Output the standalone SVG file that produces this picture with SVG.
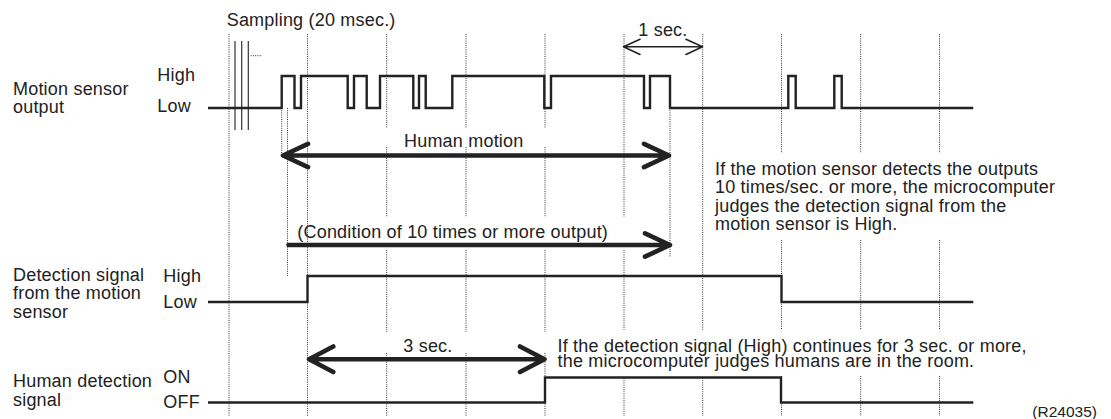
<svg xmlns="http://www.w3.org/2000/svg" width="1111" height="419" viewBox="0 0 1111 419">
<style>
text{font-family:"Liberation Sans",Arial,Helvetica,sans-serif;font-size:18px;letter-spacing:0.2px;fill:#222}
.small{font-size:15.5px;letter-spacing:0}
.grid{stroke:#333;stroke-width:1;stroke-dasharray:1 1.2;fill:none}
.samp{stroke:#333;stroke-width:1.2;fill:none}
.wave{stroke:#222;stroke-width:2.4;fill:none;stroke-linejoin:miter}
.thick{stroke:#222;stroke-width:4.6;fill:none;stroke-linecap:round;stroke-linejoin:round}
.thin{stroke:#222;stroke-width:1.6;fill:none;stroke-linecap:round;stroke-linejoin:round}
</style>
<rect width="1111" height="419" fill="#fff"/>
<g id="grid">
<path class="grid" d="M229,34V416 M307.5,34V416 M281.7,108V156 M287.5,108V276 M670,108V257
M386.7,34V128 M386.7,147V217 M386.7,250V332 M386.7,353V416
M466,34V128 M466,147V217 M466,250V332 M466,353V416
M545,34V128 M545,147V217 M545,250V332 M545,353V416
M624,34V217 M624,250V330 M624,378V416
M702.7,34V330 M702.7,378V416
M781.5,34V153 M781.5,240V330 M781.5,376V416
M860.7,34V153 M860.7,240V330 M860.7,376V416
M939.5,34V153 M939.5,240V330 M939.5,376V416"/>
</g>
<g id="sampling">
<path class="samp" d="M235,41V130 M241.7,41V130 M248.3,41V130"/>
<path class="grid" d="M250.7,55.7H262"/>
<text x="226.7" y="26">Sampling (20 msec.)</text>
</g>
<g id="motion-sensor">
<text x="13" y="94.5">Motion sensor</text>
<text x="13" y="112.5">output</text>
<text x="157.3" y="81">High</text>
<text x="157.3" y="112">Low</text>
<path class="wave" d="M208,108H281.7V76H294.5V108H301V76H347.7V108H354V76H366.7V108H380V76H413.3V108H419V76H425.7V108H452.3V76H544.3V108H551V76H644V108H650V76H670V108H788.3V76H795.7V108H834.3V76H841.7V108H973.3"/>
</g>
<g id="detection-signal">
<text x="13" y="281">Detection signal</text>
<text x="13" y="299.3">from the motion</text>
<text x="13" y="317.6">sensor</text>
<text x="163.3" y="281.5">High</text>
<text x="163.3" y="307.5">Low</text>
<path class="wave" d="M208,302H307.5V276H781.5V302H973.3"/>
</g>
<g id="human-detection">
<text x="13" y="387.3">Human detection</text>
<text x="13" y="405.6">signal</text>
<text x="163.3" y="382.7">ON</text>
<text x="163.3" y="408.3">OFF</text>
<path class="wave" d="M208,402.5H545V377.5H781V402.5H973.3"/>
</g>
<g id="connectors">
<path class="thin" d="M623.5,46.7H702.5 M640,39.3L623.5,46.7L640,54.5 M686,39.3L702.5,46.7L686,54.5"/>
<path class="thick" d="M283,155.5H669 M308,143.8L283,155.5L308,167.2 M644,143.8L669,155.5L644,167.2"/>
<path class="thick" d="M288.5,245H669.5 M645,233.3L670,245L645,256.7"/>
<path class="thick" d="M309.5,359.3H544 M333.3,346.5L309,359.3L333.3,372 M520,346.5L544.5,359.3L520,372"/>
</g>
<g id="labels">
<text x="638.3" y="35.7">1 sec.</text>
<text x="404" y="147">Human motion</text>
<text x="297.3" y="238.3">(Condition of 10 times or more output)</text>
<text x="403.3" y="351.7">3 sec.</text>
<text x="715" y="175">If the motion sensor detects the outputs</text>
<text x="715" y="193.3">10 times/sec. or more, the microcomputer</text>
<text x="715" y="211.6">judges the detection signal from the</text>
<text x="715" y="229.9">motion sensor is High.</text>
<text x="557.5" y="351.5">If the detection signal (High) continues for 3 sec. or more,</text>
<text x="557.5" y="367">the microcomputer judges humans are in the room.</text>
<text class="small" x="1032.3" y="416.5">(R24035)</text>
</g>
</svg>
